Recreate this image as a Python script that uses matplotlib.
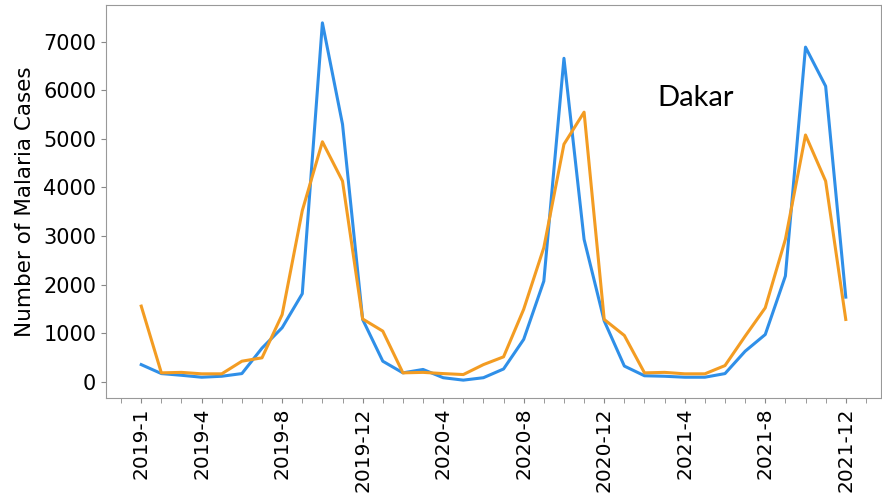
import numpy as np
import matplotlib.pyplot as plt
from matplotlib.ticker import FixedLocator, MultipleLocator

# monthly malaria cases in Dakar, Jan 2019 - Dec 2021
months = ['{}-{}'.format(y, m) for y in (2019, 2020, 2021) for m in range(1, 13)]

observed = [350, 165, 130, 90, 110, 165, 690, 1110, 1810, 7390, 5300, 1280,
            420, 180, 250, 80, 30, 80, 260, 870, 2070, 6660, 2930, 1250,
            320, 120, 110, 90, 90, 165, 625, 970, 2175, 6890, 6085, 1740]

predicted = [1555, 180, 190, 160, 160, 420, 490, 1380, 3520, 4940, 4130, 1290,
             1040, 180, 190, 165, 145, 350, 510, 1490, 2760, 4890, 5550, 1280,
             950, 180, 190, 160, 160, 330, 935, 1520, 2930, 5080, 4130, 1280]

tick_labels = ['2019-1', '2019-4', '2019-8', '2019-12', '2020-4',
               '2020-8', '2020-12', '2021-4', '2021-8', '2021-12']

fig = plt.figure(figsize=(8.82, 4.98), dpi=100)
ax = fig.add_axes([106 / 882, 1 - 398 / 498, (881 - 106) / 882, (398 - 5) / 498])

x = np.arange(len(months))
ax.plot(x, observed, color='#2f8fe8', lw=2.2)
ax.plot(x, predicted, color='#f39c22', lw=2.2)

tick_pos = [months.index(t) for t in tick_labels]
ax.xaxis.set_major_locator(FixedLocator(tick_pos))
ax.xaxis.set_minor_locator(MultipleLocator(1))
ax.set_xticklabels(tick_labels, rotation=90, fontsize=14.5)
ax.tick_params(axis='x', which='both', length=3.5, color='#888888')
ax.tick_params(axis='y', labelsize=15, length=3.5, color='#888888')
ax.set_yticks(range(0, 8000, 1000))
ax.set_ylabel('Number of Malaria Cases', fontsize=15.5, labelpad=6)

for s in ax.spines.values():
    s.set_color('#999999')

# city name, placed in pixels from the bottom-left corner
ax.text(657, 498 - 106, 'Dakar', transform=None, fontsize=21, family='Lato')

fig.savefig('out.png', dpi=100)
